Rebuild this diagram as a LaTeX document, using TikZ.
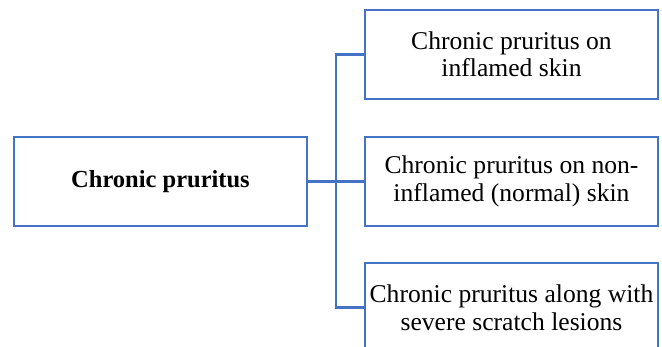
\documentclass[tikz,border=0pt]{standalone}
\usepackage{fontspec}
\setmainfont{Liberation Serif}
\usepackage{tikz}
\usetikzlibrary{positioning}
\definecolor{prublue}{HTML}{4472C4}
\tikzset{
  box/.style={draw=prublue,line width=2.8pt,fill=white,align=center,inner sep=0pt,
    minimum width=293pt,minimum height=89pt,font=\fontsize{25.6}{27.5}\selectfont},
  rootbox/.style={box,font=\fontsize{24.5}{27.5}\selectfont\bfseries},
  conn/.style={draw=prublue,line width=2.8pt},
}
\begin{document}
\begin{tikzpicture}[x=1pt,y=1pt]
  \useasboundingbox (0,0) rectangle (662,347);
  % root and the three kinds
  \node[rootbox] (root) at (160.5,165.5) {Chronic pruritus};
  \node[box] (inflamed) at (511.5,292.5) {Chronic pruritus on\\inflamed skin};
  \node[box] (normal) at (511.5,165.5) {Chronic pruritus on non-\\inflamed (normal) skin};
  \node[box] (scratch) at (511.5,39.5) {Chronic pruritus along with\\severe scratch lesions};
  \coordinate (jn) at (336,165.5);
  % connectors
  \draw[conn] (root.east) -- (normal.west);
  \draw[conn] (inflamed.west) -| (jn) |- (scratch.west);
\end{tikzpicture}
\end{document}
